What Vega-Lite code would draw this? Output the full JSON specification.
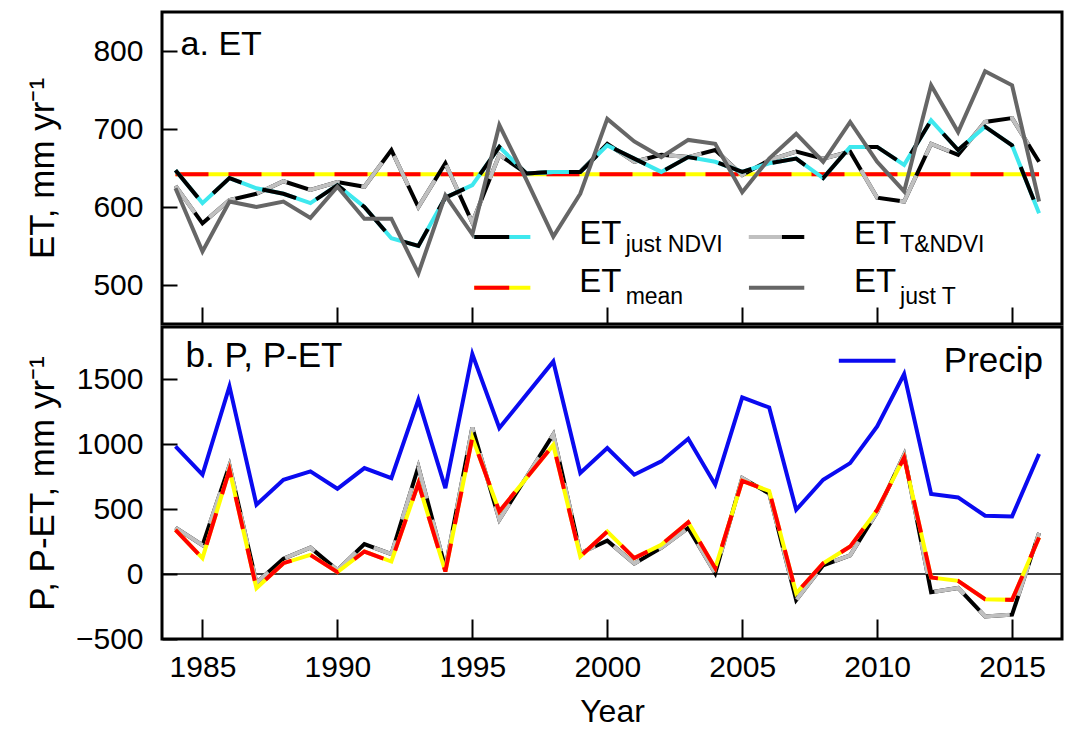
{
  "$schema": "https://vega.github.io/schema/vega-lite/v6.json",
  "background": "white",
  "padding": {"top": 10, "left": 23, "right": 0, "bottom": 0},
  "spacing": -3,
  "config": {
    "font": "Liberation Sans",
    "view": {"stroke": "black", "strokeWidth": 3},
    "axis": {"grid": false, "domain": false, "tickColor": "black", "tickWidth": 2, "labelColor": "black", "titleColor": "black", "labelFont": "Liberation Sans", "titleFont": "Liberation Sans", "titleFontWeight": "normal", "labelFontSize": 30, "titleFontSize": 35},
    "text": {"font": "Liberation Sans", "color": "black"}
  },
  "datasets": {
    "d": [
      {"year": 1984, "ndvi": 647, "tndvi": 627, "justT": 624, "mean": 642, "precip": 981, "petT": 357, "petMean": 339},
      {"year": 1985, "ndvi": 605, "tndvi": 579, "justT": 543, "mean": 642, "precip": 764, "petT": 221, "petMean": 122},
      {"year": 1986, "ndvi": 637, "tndvi": 609, "justT": 607, "mean": 642, "precip": 1443, "petT": 836, "petMean": 801},
      {"year": 1987, "ndvi": 624, "tndvi": 617, "justT": 600, "mean": 642, "precip": 533, "petT": -67, "petMean": -109},
      {"year": 1988, "ndvi": 617, "tndvi": 633, "justT": 607, "mean": 642, "precip": 725, "petT": 118, "petMean": 83},
      {"year": 1989, "ndvi": 605, "tndvi": 622, "justT": 586, "mean": 642, "precip": 789, "petT": 203, "petMean": 147},
      {"year": 1990, "ndvi": 628, "tndvi": 632, "justT": 626, "mean": 642, "precip": 656, "petT": 30, "petMean": 14},
      {"year": 1991, "ndvi": 600, "tndvi": 626, "justT": 585, "mean": 642, "precip": 815, "petT": 230, "petMean": 173},
      {"year": 1992, "ndvi": 560, "tndvi": 673, "justT": 585, "mean": 642, "precip": 738, "petT": 153, "petMean": 96},
      {"year": 1993, "ndvi": 550, "tndvi": 600, "justT": 515, "mean": 642, "precip": 1340, "petT": 825, "petMean": 698},
      {"year": 1994, "ndvi": 612, "tndvi": 656, "justT": 615, "mean": 642, "precip": 661, "petT": 46, "petMean": 19},
      {"year": 1995, "ndvi": 628, "tndvi": 580, "justT": 565, "mean": 642, "precip": 1692, "petT": 1127, "petMean": 1050},
      {"year": 1996, "ndvi": 677, "tndvi": 667, "justT": 705, "mean": 642, "precip": 1123, "petT": 418, "petMean": 481},
      {"year": 1997, "ndvi": 643, "tndvi": 643, "justT": 635, "mean": 642, "precip": 1379, "petT": 744, "petMean": 737},
      {"year": 1998, "ndvi": 645, "tndvi": 645, "justT": 562, "mean": 642, "precip": 1635, "petT": 1073, "petMean": 993},
      {"year": 1999, "ndvi": 645, "tndvi": 645, "justT": 617, "mean": 642, "precip": 777, "petT": 160, "petMean": 135},
      {"year": 2000, "ndvi": 679, "tndvi": 681, "justT": 713, "mean": 642, "precip": 969, "petT": 256, "petMean": 327},
      {"year": 2001, "ndvi": 662, "tndvi": 658, "justT": 684, "mean": 642, "precip": 764, "petT": 80, "petMean": 122},
      {"year": 2002, "ndvi": 645, "tndvi": 667, "justT": 664, "mean": 642, "precip": 866, "petT": 202, "petMean": 224},
      {"year": 2003, "ndvi": 664, "tndvi": 664, "justT": 686, "mean": 642, "precip": 1040, "petT": 354, "petMean": 398},
      {"year": 2004, "ndvi": 658, "tndvi": 673, "justT": 681, "mean": 642, "precip": 687, "petT": 6, "petMean": 45},
      {"year": 2005, "ndvi": 645, "tndvi": 641, "justT": 619, "mean": 642, "precip": 1358, "petT": 739, "petMean": 716},
      {"year": 2006, "ndvi": 656, "tndvi": 660, "justT": 662, "mean": 642, "precip": 1281, "petT": 619, "petMean": 639},
      {"year": 2007, "ndvi": 662, "tndvi": 671, "justT": 694, "mean": 642, "precip": 494, "petT": -200, "petMean": -148},
      {"year": 2008, "ndvi": 637, "tndvi": 662, "justT": 658, "mean": 642, "precip": 725, "petT": 67, "petMean": 83},
      {"year": 2009, "ndvi": 677, "tndvi": 671, "justT": 709, "mean": 642, "precip": 853, "petT": 144, "petMean": 211},
      {"year": 2010, "ndvi": 677, "tndvi": 612, "justT": 658, "mean": 642, "precip": 1135, "petT": 477, "petMean": 493},
      {"year": 2011, "ndvi": 654, "tndvi": 607, "justT": 620, "mean": 642, "precip": 1538, "petT": 918, "petMean": 896},
      {"year": 2012, "ndvi": 711, "tndvi": 681, "justT": 756, "mean": 642, "precip": 615, "petT": -141, "petMean": -27},
      {"year": 2013, "ndvi": 673, "tndvi": 667, "justT": 696, "mean": 642, "precip": 589, "petT": -107, "petMean": -53},
      {"year": 2014, "ndvi": 703, "tndvi": 709, "justT": 774, "mean": 642, "precip": 448, "petT": -326, "petMean": -194},
      {"year": 2015, "ndvi": 679, "tndvi": 714, "justT": 756, "mean": 642, "precip": 443, "petT": -313, "petMean": -199},
      {"year": 2016, "ndvi": 592, "tndvi": 658, "justT": 607, "mean": 642, "precip": 923, "petT": 316, "petMean": 281}
    ]
  },
  "vconcat": [
    {
      "width": 900,
      "height": 312,
      "layer": [
        {"data": {"name": "d"}, "mark": {"type": "line", "stroke": "#ffff00", "strokeWidth": 4},
         "encoding": {
           "x": {"field": "year", "type": "quantitative", "scale": {"domain": [1983.5, 2016.85], "nice": false, "zero": false},
                 "axis": {"values": [1985, 1990, 1995, 2000, 2005, 2010, 2015], "labels": false, "title": null, "tickSize": -17}},
           "y": {"field": "mean", "type": "quantitative", "scale": {"domain": [450, 850], "nice": false, "zero": false},
                 "axis": {"values": [500, 600, 700, 800], "title": "ET, mm yr⁻¹", "tickSize": -15, "labelPadding": 34, "minExtent": 75, "maxExtent": 75, "titlePadding": 27, "format": "d"}}}},
        {"data": {"name": "d"}, "mark": {"type": "line", "stroke": "#ff0000", "strokeWidth": 4, "strokeDash": [33, 20]},
         "encoding": {"x": {"field": "year", "type": "quantitative"}, "y": {"field": "mean", "type": "quantitative"}}},
        {"data": {"name": "d"}, "mark": {"type": "line", "stroke": "#000000", "strokeWidth": 4},
         "encoding": {"x": {"field": "year", "type": "quantitative"}, "y": {"field": "tndvi", "type": "quantitative"}}},
        {"data": {"name": "d"}, "mark": {"type": "line", "stroke": "#c0c0c0", "strokeWidth": 4, "strokeDash": [33, 22]},
         "encoding": {"x": {"field": "year", "type": "quantitative"}, "y": {"field": "tndvi", "type": "quantitative"}}},
        {"data": {"name": "d"}, "mark": {"type": "line", "stroke": "#3ee8ee", "strokeWidth": 4},
         "encoding": {"x": {"field": "year", "type": "quantitative"}, "y": {"field": "ndvi", "type": "quantitative"}}},
        {"data": {"name": "d"}, "mark": {"type": "line", "stroke": "#000000", "strokeWidth": 4, "strokeDash": [35, 22]},
         "encoding": {"x": {"field": "year", "type": "quantitative"}, "y": {"field": "ndvi", "type": "quantitative"}}},
        {"data": {"name": "d"}, "mark": {"type": "line", "stroke": "#666666", "strokeWidth": 4},
         "encoding": {"x": {"field": "year", "type": "quantitative"}, "y": {"field": "justT", "type": "quantitative"}}},

        {"data": {"values": [{}]}, "mark": {"type": "rule", "stroke": "#3ee8ee", "strokeWidth": 4},
         "encoding": {"x": {"datum": 1995.07, "type": "quantitative"}, "x2": {"datum": 1997.15}, "y": {"datum": 561.5, "type": "quantitative"}}},
        {"data": {"values": [{}]}, "mark": {"type": "rule", "stroke": "#000000", "strokeWidth": 4, "strokeDash": [35, 22]},
         "encoding": {"x": {"datum": 1995.07, "type": "quantitative"}, "x2": {"datum": 1997.15}, "y": {"datum": 561.5, "type": "quantitative"}}},
        {"data": {"values": [{}]}, "mark": {"type": "rule", "stroke": "#ffff00", "strokeWidth": 4},
         "encoding": {"x": {"datum": 1995.07, "type": "quantitative"}, "x2": {"datum": 1997.15}, "y": {"datum": 496.5, "type": "quantitative"}}},
        {"data": {"values": [{}]}, "mark": {"type": "rule", "stroke": "#ff0000", "strokeWidth": 4, "strokeDash": [35, 22]},
         "encoding": {"x": {"datum": 1995.07, "type": "quantitative"}, "x2": {"datum": 1997.15}, "y": {"datum": 496.5, "type": "quantitative"}}},
        {"data": {"values": [{}]}, "mark": {"type": "rule", "stroke": "#000000", "strokeWidth": 4},
         "encoding": {"x": {"datum": 2005.25, "type": "quantitative"}, "x2": {"datum": 2007.3}, "y": {"datum": 561.5, "type": "quantitative"}}},
        {"data": {"values": [{}]}, "mark": {"type": "rule", "stroke": "#c0c0c0", "strokeWidth": 4, "strokeDash": [33, 22]},
         "encoding": {"x": {"datum": 2005.25, "type": "quantitative"}, "x2": {"datum": 2007.3}, "y": {"datum": 561.5, "type": "quantitative"}}},
        {"data": {"values": [{}]}, "mark": {"type": "rule", "stroke": "#666666", "strokeWidth": 4},
         "encoding": {"x": {"datum": 2005.25, "type": "quantitative"}, "x2": {"datum": 2007.3}, "y": {"datum": 496.5, "type": "quantitative"}}},

        {"data": {"values": [{}]}, "mark": {"type": "text", "text": "ET", "fontSize": 33, "align": "left", "baseline": "alphabetic"},
         "encoding": {"x": {"datum": 1998.96, "type": "quantitative"}, "y": {"datum": 552.6, "type": "quantitative"}}},
        {"data": {"values": [{}]}, "mark": {"type": "text", "text": "just NDVI", "fontSize": 23, "align": "left", "baseline": "alphabetic"},
         "encoding": {"x": {"datum": 2000.68, "type": "quantitative"}, "y": {"datum": 542, "type": "quantitative"}}},
        {"data": {"values": [{}]}, "mark": {"type": "text", "text": "ET", "fontSize": 33, "align": "left", "baseline": "alphabetic"},
         "encoding": {"x": {"datum": 1998.96, "type": "quantitative"}, "y": {"datum": 491, "type": "quantitative"}}},
        {"data": {"values": [{}]}, "mark": {"type": "text", "text": "mean", "fontSize": 23, "align": "left", "baseline": "alphabetic"},
         "encoding": {"x": {"datum": 2000.68, "type": "quantitative"}, "y": {"datum": 476, "type": "quantitative"}}},
        {"data": {"values": [{}]}, "mark": {"type": "text", "text": "ET", "fontSize": 33, "align": "left", "baseline": "alphabetic"},
         "encoding": {"x": {"datum": 2009.14, "type": "quantitative"}, "y": {"datum": 552.6, "type": "quantitative"}}},
        {"data": {"values": [{}]}, "mark": {"type": "text", "text": "T&NDVI", "fontSize": 23, "align": "left", "baseline": "alphabetic"},
         "encoding": {"x": {"datum": 2010.85, "type": "quantitative"}, "y": {"datum": 542, "type": "quantitative"}}},
        {"data": {"values": [{}]}, "mark": {"type": "text", "text": "ET", "fontSize": 33, "align": "left", "baseline": "alphabetic"},
         "encoding": {"x": {"datum": 2009.14, "type": "quantitative"}, "y": {"datum": 491, "type": "quantitative"}}},
        {"data": {"values": [{}]}, "mark": {"type": "text", "text": "just T", "fontSize": 23, "align": "left", "baseline": "alphabetic"},
         "encoding": {"x": {"datum": 2010.85, "type": "quantitative"}, "y": {"datum": 476, "type": "quantitative"}}},
        {"data": {"values": [{}]}, "mark": {"type": "text", "text": "a. ET", "fontSize": 34, "align": "left", "baseline": "alphabetic"},
         "encoding": {"x": {"datum": 1984.19, "type": "quantitative"}, "y": {"datum": 795, "type": "quantitative"}}}
      ]
    },
    {
      "width": 900,
      "height": 312,
      "layer": [
        {"data": {"name": "d"}, "mark": {"type": "line", "stroke": "#0a0af0", "strokeWidth": 4},
         "encoding": {
           "x": {"field": "year", "type": "quantitative", "scale": {"domain": [1983.5, 2016.85], "nice": false, "zero": false},
                 "axis": {"values": [1985, 1990, 1995, 2000, 2005, 2010, 2015], "format": "d", "title": "Year", "tickSize": -20, "labelPadding": 33, "titlePadding": 14, "titleFontSize": 32}},
           "y": {"field": "precip", "type": "quantitative", "scale": {"domain": [-500, 1900], "nice": false, "zero": false},
                 "axis": {"values": [-500, 0, 500, 1000, 1500], "title": "P, P-ET, mm yr⁻¹", "tickSize": -15, "labelPadding": 34, "minExtent": 75, "maxExtent": 75, "titlePadding": 27, "format": "d"}}}},
        {"data": {"values": [{}]}, "mark": {"type": "rule", "stroke": "#000000", "strokeWidth": 1.3},
         "encoding": {"y": {"datum": 0, "type": "quantitative"}}},
        {"data": {"name": "d"}, "mark": {"type": "line", "stroke": "#000000", "strokeWidth": 4},
         "encoding": {"x": {"field": "year", "type": "quantitative"}, "y": {"field": "petT", "type": "quantitative"}}},
        {"data": {"name": "d"}, "mark": {"type": "line", "stroke": "#c0c0c0", "strokeWidth": 4, "strokeDash": [33, 22]},
         "encoding": {"x": {"field": "year", "type": "quantitative"}, "y": {"field": "petT", "type": "quantitative"}}},
        {"data": {"name": "d"}, "mark": {"type": "line", "stroke": "#ffff00", "strokeWidth": 4},
         "encoding": {"x": {"field": "year", "type": "quantitative"}, "y": {"field": "petMean", "type": "quantitative"}}},
        {"data": {"name": "d"}, "mark": {"type": "line", "stroke": "#ff0000", "strokeWidth": 4, "strokeDash": [33, 20]},
         "encoding": {"x": {"field": "year", "type": "quantitative"}, "y": {"field": "petMean", "type": "quantitative"}}},
        {"data": {"values": [{}]}, "mark": {"type": "rule", "stroke": "#0a0af0", "strokeWidth": 4},
         "encoding": {"x": {"datum": 2008.58, "type": "quantitative"}, "x2": {"datum": 2010.68}, "y": {"datum": 1640, "type": "quantitative"}}},
        {"data": {"values": [{}]}, "mark": {"type": "text", "text": "Precip", "fontSize": 35, "align": "left", "baseline": "alphabetic"},
         "encoding": {"x": {"datum": 2012.47, "type": "quantitative"}, "y": {"datum": 1553, "type": "quantitative"}}},
        {"data": {"values": [{}]}, "mark": {"type": "text", "text": "b. P, P-ET", "fontSize": 35, "align": "left", "baseline": "alphabetic"},
         "encoding": {"x": {"datum": 1984.37, "type": "quantitative"}, "y": {"datum": 1596, "type": "quantitative"}}}
      ]
    }
  ]
}
